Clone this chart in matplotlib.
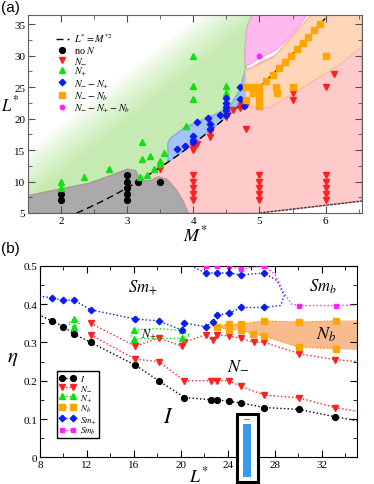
import matplotlib
matplotlib.use('Agg')
import matplotlib.pyplot as plt
import numpy as np
from matplotlib.patches import Polygon, Rectangle

plt.rcParams['font.family'] = ['Liberation Serif', 'DejaVu Serif']
plt.rcParams['mathtext.fontset'] = 'stix'

# ---------------- panel (a) data ----------------
noN_M = [2, 2, 3, 3, 3, 3, 3, 3.16, 3.5]
noN_L = [7, 8, 7, 8, 9, 10, 11, 10, 10]

Nm_M = [4, 4, 4, 4, 4, 5, 5, 5, 5, 5, 6, 6, 6, 6, 6,
        3.5, 4, 4, 4.06, 4.25, 4.25, 4.5, 4.5, 4.6, 4.7, 4.72, 4.75, 4.78, 4.8, 4.8,
        5.5, 5.5, 6, 6.12]
Nm_L = [7, 8, 9, 10, 11, 7, 8, 9, 10, 11, 7, 8, 9, 10, 11,
        12, 15, 15.5, 16, 17, 17.8, 20.2, 20.7, 21.3, 21.7, 22.0, 22.3, 22.5, 22.2, 18.4,
        23, 24, 25, 27.1]

Np_M = [2, 2, 2.34, 2.73, 3.19, 3.23, 3.23, 3.3, 3.35, 3.4, 3.5, 3.5, 3.55,
        3.89, 4, 4, 4, 4.5, 4.5]
Np_L = [9, 10, 10.7, 12, 10.7, 13.6, 16.3, 11, 14.1, 12, 12.8, 13.3, 14.5,
        18.8, 23.1, 25.1, 30, 24, 25.2]

NmNp_M = [3.75, 3.88, 4, 4, 4, 4.06, 4.22, 4.25, 4.25, 4.4, 4.5, 4.5, 4.5, 4.5, 4.5,
          4.71, 4.71, 4.77]
NmNp_L = [15.2, 15.6, 16.2, 16.6, 17.2, 19.4, 20.1, 19.2, 18.4, 20.6, 20.5, 21.3, 21.8,
          22.4, 23.2, 25, 23.1, 22]

NmNb_M = [4.80, 4.90, 5.0, 5.10, 5.20, 5.29, 5.39, 5.48, 5.57, 5.66, 5.74, 5.83, 5.92,
          4.8, 4.9, 5, 5, 5, 5.25, 5.26, 5.5, 6]
NmNb_L = [23, 24, 25, 26, 27, 28, 29, 30, 31, 32, 33, 34, 35,
          25, 25, 24, 23, 22, 25, 24, 25, 30]

NmNpNb_M = [5]
NmNpNb_L = [30]

# region boundaries (M*, L*)
gray_reg = [(1.5, 5), (1.5, 7.7), (2, 8.8), (2.4, 9.6), (2.75, 10.9), (3.0, 11.9),
            (3.12, 11.7), (3.16, 10.9), (3.2, 10.1), (3.35, 10.1), (3.47, 10.7),
            (3.6, 10.3), (3.73, 8.8), (3.85, 6.7), (3.9, 5.4), (3.92, 5)]
green_reg = [(1.5, 36.5), (1.5, 7.7), (2, 8.8), (2.4, 9.6), (2.75, 10.9), (3.0, 11.9),
             (3.12, 11.7), (3.16, 10.9), (3.2, 10.2), (3.4, 11.56), (3.62, 13.1),
             (3.62, 16.0), (3.65, 16.8), (3.88, 18.6), (4.13, 19.7), (4.41, 21),
             (4.56, 22.1), (4.71, 24.5), (4.76, 26.6), (4.79, 27.7), (4.79, 28.5),
             (4.78, 30), (4.81, 34.3), (4.89, 36.5)]
blue_reg = [(3.62, 13.1), (3.62, 16.0), (3.65, 16.8), (3.88, 18.6), (4.13, 19.7),
            (4.41, 21), (4.56, 22.1), (4.71, 24.5), (4.76, 26.6), (4.79, 27.7),
            (4.85, 28.0), (4.86, 27.1), (4.85, 26.3), (4.79, 25), (4.74, 22.5),
            (4.4, 19.4), (4.0, 16.0)]
pink_reg = [(3.92, 5), (3.9, 5.4), (3.85, 6.7), (3.73, 8.8), (3.6, 10.3), (3.47, 10.7),
            (3.35, 10.1), (3.2, 10.24), (3.6, 12.96), (4.0, 16.0), (4.4, 19.36),
            (4.74, 22.5), (4.8, 27.6), (5.0, 28.8), (5.3, 30.3), (5.5, 32),
            (6.55, 32), (6.55, 6.9), (5.0, 5.0)]
orange_reg = [(4.79, 22.1), (5.02, 21.6), (5.17, 21.8), (5.47, 23.7), (5.82, 26),
              (6.23, 28.7), (6.55, 31.4), (6.55, 36.5), (5.78, 36.5), (5.47, 32.7),
              (5.22, 29.8), (5.01, 28.7), (4.86, 27.9), (4.79, 27.7)]
magenta_reg = [(4.89, 36.5), (4.81, 34.3), (4.78, 30), (4.79, 28.5), (4.82, 28.4),
               (5.0, 29.6), (5.25, 30.9), (5.5, 33.3), (5.72, 36.5)]
lower_line_M = [5.0, 6.55]
lower_line_L = [5.0, 6.9]

# ---------------- panel (b) data ----------------
I_L = [7, 9, 10, 10.9, 12.3, 16.1, 18.1, 20.3, 22.6, 23.1, 24.1, 25.1, 27.1, 30.1, 33.1, 36]
I_eta = [0.385, 0.356, 0.341, 0.322, 0.30, 0.241, 0.2, 0.156, 0.15, 0.15, 0.146, 0.142,
         0.13, 0.125, 0.106, 0.09]

Nmlo_L = [12.3, 16.1, 18.1, 20.3, 22.6, 23.1, 24.1, 25.1, 27.1, 30.1, 33.1, 36]
Nmlo_eta = [0.32, 0.256, 0.25, 0.2, 0.2, 0.2, 0.2, 0.185, 0.1625, 0.155, 0.13, 0.115]
Nmhi_L = [12.3, 16.1, 18.1, 20.1, 20.3, 22.1, 22.7, 23.1, 24.1, 25.1, 26.2, 27.1, 30.1,
          33.1, 36]
Nmhi_eta = [0.35, 0.29, 0.311, 0.29, 0.30, 0.32, 0.305, 0.32, 0.316, 0.311, 0.30, 0.30,
            0.27, 0.255, 0.247]

Np1_L = [10.9, 11.4, 10.9, 10.4, 10.9]
Np1_eta = [0.36, 0.35, 0.34, 0.35, 0.36]
Np2_L = [16.0, 18.0, 20.1, 20.8, 20.1, 18.0, 16.0, 15.7, 16.0]
Np2_eta = [0.333, 0.336, 0.331, 0.318, 0.311, 0.31, 0.309, 0.32, 0.333]

Nb_L = [33.2, 30.1, 27.1, 26.1, 25.1, 24.1, 23.1, 24.1, 25.1, 27.1, 30.1, 33.2]
Nb_eta = [0.283, 0.287, 0.316, 0.322, 0.333, 0.333, 0.341, 0.348, 0.348, 0.356, 0.352, 0.356]
band_L = [23.0, 24, 25, 27, 30, 33, 35, 35, 33, 30, 27, 26, 25, 24, 23.0]
band_eta = [0.343, 0.348, 0.348, 0.357, 0.354, 0.357, 0.357,
            0.28, 0.283, 0.287, 0.316, 0.322, 0.333, 0.333, 0.338]

Smp_L = [7, 9, 10, 10.9, 12.3, 16.1, 18.1, 20.1, 20.3, 22.1, 22.7, 23.1, 24.1, 25.1, 27.1,
         28.5, 28.8, 28.2, 27.1, 25.1, 24.1, 23.1, 22.1, 20]
Smp_eta = [0.425, 0.416, 0.41, 0.41, 0.385, 0.361, 0.356, 0.332, 0.35, 0.341, 0.352, 0.371,
           0.376, 0.391, 0.391, 0.396, 0.422, 0.461, 0.481, 0.476, 0.481, 0.481, 0.481, 0.514]
Smp_marks = [i for i in range(len(Smp_L)) if i not in (15, 16, 17)]

Smb_L = [22.1, 23.1, 24.1, 25.1, 27.1, 28.0, 28.6, 29.4, 30.1, 33.2, 36]
Smb_eta = [0.5, 0.5, 0.5, 0.491, 0.5, 0.478, 0.439, 0.40, 0.396, 0.396, 0.398]
Smb_marks = [0, 1, 2, 3, 4, 8, 9, 10]

fig = plt.figure(figsize=(3.74, 4.85), dpi=100)

# ================= (a) =================
ax1 = fig.add_axes([0.0749, 0.5588, 0.8930, 0.4088])
xl, yl = (1.5, 6.55), (5, 36.5)
ax1.set_xlim(*xl)
ax1.set_ylim(*yl)

# green region with fade to white towards the upper left
mm, ll = np.meshgrid(np.linspace(xl[0], xl[1], 400), np.linspace(yl[0], yl[1], 300))
px = (mm - xl[0]) / (xl[1] - xl[0]) * 334
py = (ll - yl[0]) / (yl[1] - yl[0]) * 198
s = (135 * px - 172 * py) / 218.6 + 49.6
alpha = np.clip(s / 40.0, 0, 1) ** 0.8
img = np.zeros(mm.shape + (4,))
img[..., 0], img[..., 1], img[..., 2] = 0.78, 0.925, 0.70
img[..., 3] = alpha
gpoly = Polygon(green_reg, closed=True, facecolor='none', edgecolor='#90c880', lw=1.5, zorder=1)
ax1.add_patch(gpoly)
im = ax1.imshow(img, extent=[xl[0], xl[1], yl[0], yl[1]], origin='lower', aspect='auto',
                interpolation='bilinear', zorder=0.5)
im.set_clip_path(gpoly)

ax1.add_patch(Polygon(pink_reg, closed=True, facecolor='#ffcaca', edgecolor='#e8a8a8', lw=1.2, zorder=1.1))
ax1.add_patch(Polygon(gray_reg, closed=True, facecolor='#aaaaaa', edgecolor='#b09c9c', lw=1.2, zorder=1.2))
ax1.add_patch(Polygon(blue_reg, closed=True, facecolor='#a3c3f4', edgecolor='#8db2ea', lw=1.2, zorder=1.3))
ax1.add_patch(Polygon(orange_reg, closed=True, facecolor='#ffd6b8', edgecolor='#f8c0a0', lw=1.2, zorder=1.4))
ax1.add_patch(Polygon(magenta_reg, closed=True, facecolor='#ffb8f0', edgecolor='#f8a8e4', lw=1.0, zorder=1.3))

mline = np.linspace(np.sqrt(5), np.sqrt(36.5), 100)
ax1.plot(mline, mline ** 2, color='black', ls=(0, (5, 3)), lw=1, zorder=2,
         label=r'$L^{*}=M^{*2}$')
ax1.plot(lower_line_M, lower_line_L, color='#333333', ls=(0, (2, 1)), lw=0.9, zorder=2)

ax1.plot(noN_M, noN_L, 'o', color='black', ms=4.2, ls='none', zorder=3, label='no $N$')
ax1.plot(Nm_M, Nm_L, 'v', color='#ff2020', ms=4.5, ls='none', zorder=3, label='$N_{-}$')
ax1.plot(Np_M, Np_L, '^', color='#10e010', ms=4.5, ls='none', zorder=3, label='$N_{+}$')
ax1.plot(NmNp_M, NmNp_L, 'D', color='#0a1cf0', ms=3.3, ls='none', zorder=3, label='$N_{-}-N_{+}$')
ax1.plot(NmNb_M, NmNb_L, 's', color='#ffa500', ms=4, ls='none', zorder=3, label='$N_{-}-N_{b}$')
ax1.plot(NmNpNb_M, NmNpNb_L, 'o', color='#ff20ff', ms=3.2, ls='none', zorder=3,
         label='$N_{-}-N_{+}-N_{b}$')

ax1.legend(loc='upper left', bbox_to_anchor=(0.085, 0.915), frameon=False, fontsize=7.3,
           handlelength=1.2, handletextpad=0.5, labelspacing=0.0, borderpad=0, borderaxespad=0)

ax1.set_xticks([2, 3, 4, 5, 6])
ax1.set_xticks(np.arange(1.5, 6.6, 0.5), minor=True)
ax1.set_yticks([5, 10, 15, 20, 25, 30, 35])
ax1.set_yticks(np.arange(5, 36.6, 2.5), minor=True)
ax1.tick_params(which='both', direction='in', top=True, right=True, labelsize=8,
                colors='#505050', labelcolor='black', pad=2)
ax1.tick_params(which='major', length=5)
ax1.tick_params(which='minor', length=3)
for sp in ax1.spines.values():
    sp.set_color('#606060')
    sp.set_zorder(5)
ax1.set_xlabel(r'$M^{*}$', fontsize=13, labelpad=0)
ax1.set_ylabel(r'$L^{*}$', fontsize=12, rotation=0, va='center', ha='center')
ax1.yaxis.set_label_coords(-0.054, 0.55)

# ================= (b) =================
ax2 = fig.add_axes([0.107, 0.055, 0.8476, 0.3951])
ax2.set_xlim(8, 35)
ax2.set_ylim(0, 0.5)

ax2.fill(band_L, band_eta, color='#f8bb8e', lw=0, zorder=1)
lk = dict(ls=':', lw=1)
ax2.plot(I_L, I_eta, marker='o', color='black', ms=4.2, label='$I$', zorder=3, **lk)
ax2.plot(Nmlo_L, Nmlo_eta, marker='v', color='#ff2020', ms=4.8, label='$N_{-}$', zorder=3, **lk)
ax2.plot(Nmhi_L, Nmhi_eta, marker='v', color='#ff2020', ms=4.8, zorder=3, **lk)
ax2.plot(Np1_L, Np1_eta, marker='^', color='#10e010', ms=4.8, markevery=[0, 2],
         label='$N_{+}$', zorder=3, **lk)
ax2.plot(Np2_L, Np2_eta, marker='^', color='#10e010', ms=4.8, markevery=[0, 2, 4, 6],
         zorder=3, **lk)
ax2.plot(Nb_L, Nb_eta, marker='s', color='#ffa500', ms=4, label='$N_{b}$', zorder=3, **lk)
ax2.plot(Smp_L, Smp_eta, marker='D', color='#0a1cf0', ms=3.3, markevery=Smp_marks,
         label='$Sm_{+}$', zorder=3, **lk)
ax2.plot(Smb_L, Smb_eta, marker='s', color='#ff20ff', ms=3.2, markevery=Smb_marks,
         label='$Sm_{b}$', zorder=3, **lk)
ax2.vlines(24.1, 0.482, 0.5, color='black', lw=1, zorder=4)

ax2.text(16.8, 0.445, '$Sm_{+}$', fontsize=12, ha='center', va='center')
ax2.text(32.1, 0.448, '$Sm_{b}$', fontsize=12, ha='center', va='center')
ax2.text(17.3, 0.323, '$N_{+}$', fontsize=9, ha='center', va='center')
ax2.text(32.4, 0.322, '$N_{b}$', fontsize=13, ha='center', va='center')
ax2.text(24.9, 0.243, '$N_{-}$', fontsize=13, ha='center', va='center')
ax2.text(18.9, 0.104, '$I$', fontsize=16, ha='center', va='center')

leg = ax2.legend(loc='lower left', bbox_to_anchor=(0.055, 0.1), fontsize=6.5, numpoints=2,
                 handlelength=1.8, handletextpad=0.4, labelspacing=0.0, borderpad=0.25,
                 borderaxespad=0, fancybox=False, framealpha=1)
leg.get_frame().set_edgecolor('black')
leg.get_frame().set_linewidth(1.0)

ax2.set_xticks([8, 12, 16, 20, 24, 28, 32])
ax2.set_xticks(np.arange(8, 35, 2), minor=True)
ax2.set_yticks([0, 0.1, 0.2, 0.3, 0.4, 0.5])
ax2.set_yticklabels(['0', '0.1', '0.2', '0.3', '0.4', '0.5'])
ax2.set_yticks(np.arange(0, 0.51, 0.05), minor=True)
ax2.tick_params(which='both', direction='in', top=True, right=True, labelsize=8, pad=2)
ax2.tick_params(which='major', length=5)
ax2.tick_params(which='minor', length=3)
ax2.set_xlabel(r'$L^{*}$', fontsize=13, labelpad=-3)
ax2.set_ylabel(r'$\eta$', fontsize=15, rotation=0, va='center', ha='center')
ax2.yaxis.set_label_coords(-0.085, 0.52)

fig.text(0.003, 0.998, '(a)', fontsize=11, family=['Liberation Sans', 'DejaVu Sans'], va='top')
fig.text(0.003, 0.502, '(b)', fontsize=11, family=['Liberation Sans', 'DejaVu Sans'], va='top')

# bar overlay at the bottom
fig.patches.append(Rectangle((0.634, 0.004), 0.056, 0.140, transform=fig.transFigure,
                             facecolor='white', edgecolor='black', lw=2.2, zorder=10))
fig.patches.append(Rectangle((0.650, 0.0144), 0.0214, 0.109, transform=fig.transFigure,
                             facecolor='#3a9ae8', edgecolor='none', zorder=11))
fig.patches.append(Rectangle((0.652, 0.131), 0.017, 0.003, transform=fig.transFigure,
                             facecolor='#3a9ae8', edgecolor='none', zorder=11))

fig.savefig('out.png', dpi=100)
